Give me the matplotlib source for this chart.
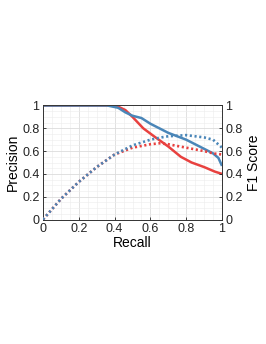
import matplotlib
matplotlib.use("Agg")
import matplotlib.pyplot as plt
import numpy as np

plt.rcParams['font.family'] = ['Liberation Sans', 'DejaVu Sans']

red_p_recall = [0.0, 0.38, 0.42, 0.46, 0.5, 0.56, 0.62, 0.7, 0.77, 0.83, 0.9, 0.96, 1.0]
red_precision = [1.0, 1.0, 0.99, 0.96, 0.9, 0.8, 0.73, 0.64, 0.55, 0.5, 0.46, 0.42, 0.4]
blue_p_recall = [0.0, 0.36, 0.42, 0.46, 0.5, 0.55, 0.6, 0.65, 0.7, 0.75, 0.8, 0.85, 0.9, 0.95, 0.98, 1.0]
blue_precision = [1.0, 1.0, 0.98, 0.94, 0.91, 0.89, 0.84, 0.8, 0.76, 0.73, 0.7, 0.66, 0.62, 0.58, 0.54, 0.47]

f1_recall = [0.0, 0.1, 0.2, 0.3, 0.4, 0.5, 0.6, 0.66, 0.7, 0.8, 0.9, 0.95, 1.0]
red_f1 = [0.0, 0.18, 0.33, 0.46, 0.57, 0.63, 0.66, 0.67, 0.66, 0.63, 0.6, 0.58, 0.57]
blue_f1 = [0.0, 0.18, 0.33, 0.46, 0.57, 0.65, 0.7, 0.72, 0.73, 0.74, 0.72, 0.7, 0.63]

ticks = [0, 0.2, 0.4, 0.6, 0.8, 1]
tick_labels = ['0', '0.2', '0.4', '0.6', '0.8', '1']

RED = '#e8413f'
BLUE = '#4a86b8'

fig = plt.figure(figsize=(2.66, 3.44), dpi=100)
ax = fig.add_axes([43/266, 1-219.5/344, 179/266, 114/344])
ax2 = ax.twinx()

ax.plot(red_p_recall, red_precision, color=RED, lw=1.8, solid_capstyle='butt', zorder=3)
ax.plot(blue_p_recall, blue_precision, color=BLUE, lw=1.8, solid_capstyle='butt', zorder=3)
ax2.plot(f1_recall, red_f1, color=RED, lw=1.9, ls=(0, (0.8, 1.0)), zorder=3)
ax2.plot(f1_recall, blue_f1, color=BLUE, lw=1.9, ls=(0, (0.8, 1.0)), zorder=3)

for a in (ax, ax2):
    a.set_xlim(0, 1)
    a.set_ylim(0, 1)
    a.set_yticks(ticks)
    a.set_yticklabels(tick_labels)
    a.tick_params(labelsize=9, length=2, width=0.6, direction='in', pad=2.5, colors='#222222')
    for s in a.spines.values():
        s.set_color('#333333')
        s.set_linewidth(0.6)
ax.set_xticks(ticks)
ax.set_xticklabels(tick_labels)
ax.set_xticks(np.arange(0, 1.0001, 0.05), minor=True)
ax.set_yticks(np.arange(0, 1.0001, 0.05), minor=True)
ax.tick_params(which='minor', length=0)
ax.grid(True, which='major', color='#dcdcdc', lw=0.6)
ax.grid(True, which='minor', color='#ececec', lw=0.4)
ax.set_axisbelow(True)

ax.set_xlabel('Recall', fontsize=10, labelpad=1)
ax.set_ylabel('Precision', fontsize=10, labelpad=2)
ax2.set_ylabel('F1 Score', fontsize=10, labelpad=3)

fig.savefig('out.png', dpi=100)
